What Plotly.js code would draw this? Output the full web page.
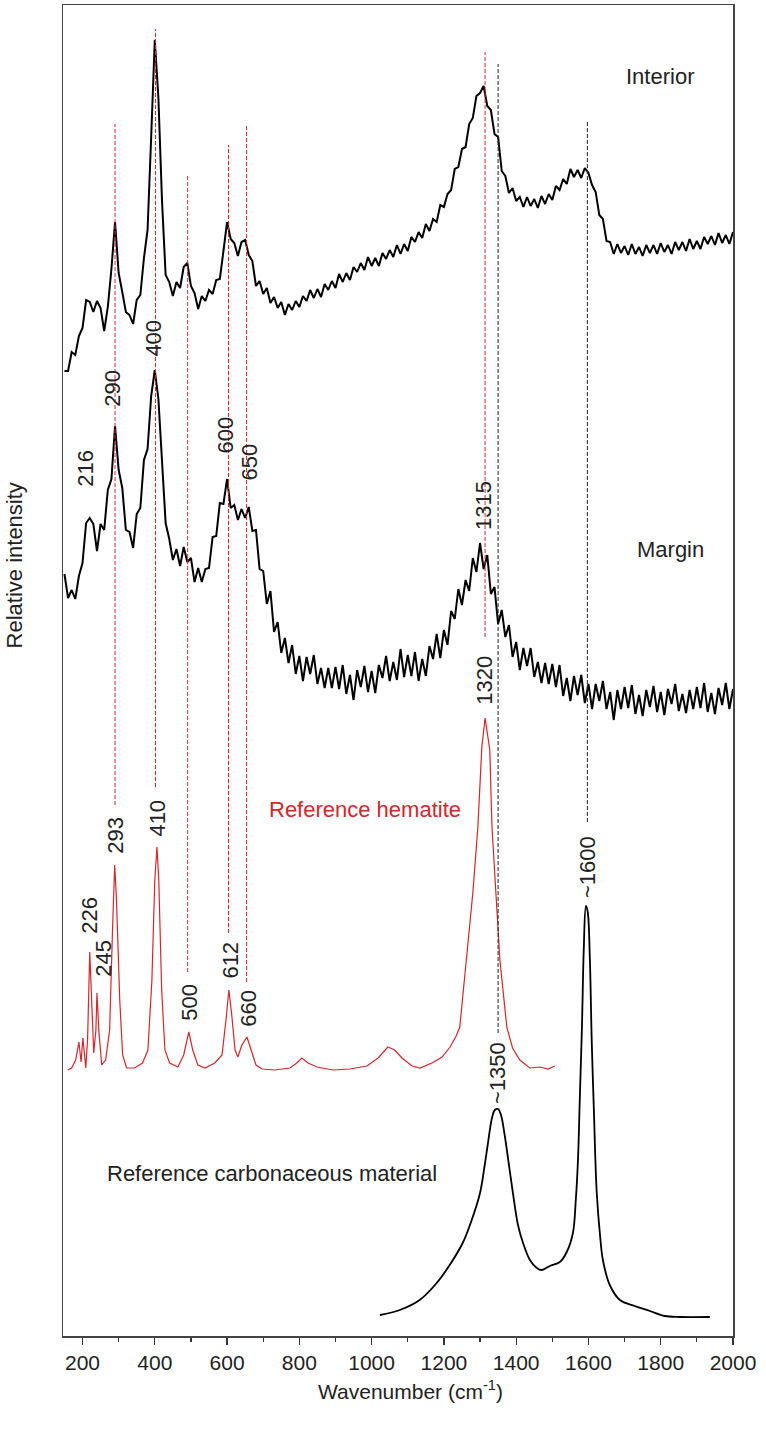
<!DOCTYPE html>
<html>
<head>
<meta charset="utf-8">
<script src="https://cdn.plot.ly/plotly-3.0.1.min.js"></script>
<style>
  body { margin: 0; background: white; }
  #chart { width: 766px; height: 1433px; }
</style>
</head>
<body>
<div id="chart"></div>
<script>
// wavenumber grid of the two measured spectra (cm-1)
var wn = [
  150,160,170,180,190,200,210,220,230,240,
  250,260,270,280,290,300,310,320,330,340,
  350,360,370,380,390,400,410,420,430,440,
  450,460,470,480,490,500,510,520,530,540,
  550,560,570,580,590,600,610,620,630,640,
  650,660,670,680,690,700,710,720,730,740,
  750,760,770,780,790,800,810,820,830,840,
  850,860,870,880,890,900,910,920,930,940,
  950,960,970,980,990,1000,1010,1020,1030,1040,
  1050,1060,1070,1080,1090,1100,1110,1120,1130,1140,
  1150,1160,1170,1180,1190,1200,1210,1220,1230,1240,
  1250,1260,1270,1280,1290,1300,1310,1320,1330,1340,
  1350,1360,1370,1380,1390,1400,1410,1420,1430,1440,
  1450,1460,1470,1480,1490,1500,1510,1520,1530,1540,
  1550,1560,1570,1580,1590,1600,1610,1620,1630,1640,
  1650,1660,1670,1680,1690,1700,1710,1720,1730,1740,
  1750,1760,1770,1780,1790,1800,1810,1820,1830,1840,
  1850,1860,1870,1880,1890,1900,1910,1920,1930,1940,
  1950,1960,1970,1980,1990,2000
];

// stacked, offset intensities (arbitrary units)
var interior = [
  965,965,984,981,1000,1008,1036,1034,1024,1035,
  1028,1005,1029,1067,1114,1063,1044,1024,1021,1012,
  1036,1041,1078,1106,1199,1296,1238,1135,1061,1054,
  1040,1054,1048,1069,1073,1050,1043,1027,1040,1035,
  1046,1042,1056,1057,1085,1114,1097,1093,1080,1094,
  1096,1081,1075,1050,1055,1042,1048,1033,1039,1028,
  1034,1021,1032,1026,1035,1029,1040,1035,1046,1038,
  1047,1039,1052,1046,1055,1048,1062,1054,1063,1056,
  1069,1064,1073,1066,1079,1070,1078,1070,1083,1077,
  1086,1079,1091,1082,1092,1085,1099,1094,1104,1098,
  1112,1105,1117,1114,1131,1129,1142,1146,1167,1169,
  1187,1189,1212,1218,1240,1243,1250,1230,1226,1202,
  1199,1165,1160,1143,1148,1135,1139,1129,1139,1130,
  1137,1128,1140,1132,1142,1136,1150,1146,1157,1152,
  1167,1159,1166,1158,1168,1163,1151,1144,1121,1117,
  1095,1094,1082,1092,1083,1090,1081,1092,1082,1089,
  1080,1091,1083,1091,1082,1093,1084,1091,1082,1094,
  1086,1094,1085,1097,1087,1095,1087,1099,1092,1100,
  1091,1103,1093,1101,1092,1104
];

var margin = [
  762,738,746,737,760,773,813,818,812,785,
  812,806,846,857,910,866,848,806,804,788,
  822,828,876,887,940,966,937,878,813,797,
  776,787,770,789,774,778,754,768,754,767,
  768,799,800,833,832,857,828,831,816,827,
  818,829,805,806,767,765,732,745,704,714,
  683,698,673,691,662,680,655,679,662,681,
  652,668,648,668,648,669,647,671,642,661,
  636,666,649,670,644,665,643,671,658,680,
  655,674,656,687,659,681,660,684,655,677,
  660,690,677,702,678,706,691,725,717,747,
  731,756,745,778,764,793,767,781,742,749,
  712,726,699,711,679,694,666,688,670,688,
  659,674,653,673,652,672,649,671,640,658,
  635,660,641,661,633,652,627,652,635,655,
  627,644,616,646,627,649,628,651,622,641,
  620,646,629,650,624,644,621,647,632,652,
  625,642,623,646,627,649,628,653,624,643,
  622,648,631,653,627,647
];

var hemWn = [
  159,170,181,190,196,201,209,214,220,226,231,237,240,245,253,264,275,283,289,294,
  303,311,322,344,366,381,392,400,406,411,419,428,441,464,480,494,505,519,539,566,
  586,597,605,613,622,630,641,655,666,680,697,732,774,793,807,824,849,893,940,987,
  1018,1045,1064,1084,1112,1134,1167,1195,1217,1234,1244,1263,1280,1294,1302,1305,1314,1327,1333,1344,
  1355,1374,1390,1410,1438,1466,1488,1507
];
var hematite = [
  266,268,276,294,274,298,268,296,384,336,283,306,343,306,271,276,306,406,471,436,
  336,281,268,268,273,286,356,456,489,456,346,286,273,269,281,304,286,271,268,273,
  281,316,346,321,286,279,291,299,286,271,267,266,268,273,278,273,269,266,267,270,
  278,289,286,278,270,268,273,279,289,300,309,376,443,509,576,589,618,586,509,443,
  376,309,288,276,268,269,267,270
];

var carbWn = [
  1023,1078,1133,1180,1216,1252,1277,1300,1313,1322,1333,1341,1350,1358,1369,1380,1391,1405,1419,1438,
  1457,1471,1493,1521,1540,1557,1565,1571,1576,1582,1587,1593,1598,1604,1609,1615,1623,1632,1640,1659,
  1687,1728,1770,1811,1853,1936
];
var carbon = [
  21,26,36,53,71,93,116,143,171,193,218,226,227,221,199,171,143,111,93,76,
  68,66,70,74,84,103,136,176,236,309,386,430,424,376,296,226,143,101,76,51,
  36,30,25,20,19,19
];

// peak guide lines: position, top, bottom
var redLineX = [290, 402, 491, 604, 654, 1314];
var redLineTop = [1212, 1307, 1161, 1191, 1212, 1284];
var redLineBot = [531, 549, 364, 403, 354, 699];
var blackLineX = [1350, 1597];
var blackLineTop = [1272, 1216];
var blackLineBot = [303, 514];

// peak labels
var peakText = ['400','290','216','600','650','1315','1320','293','410','226','245','500','612','660','~1600','~1350'];
var peakX = [394, 281, 206, 593, 662, 1308, 1310, 289, 405, 217, 256, 494, 607, 657, 1596, 1347];
var peakY = [998, 948, 868, 901, 874, 831, 656, 501, 518, 421, 378, 334, 376, 328, 469, 263];

var RED = '#d7262b';

var traces = [
  {x: wn, y: interior, mode: 'lines', line: {color: '#000', width: 2}},
  {x: wn, y: margin, mode: 'lines', line: {color: '#000', width: 2}},
  {x: hemWn, y: hematite, mode: 'lines', line: {color: RED, width: 1.2}},
  {x: carbWn, y: carbon, mode: 'lines', line: {color: '#000', width: 1.8, shape: 'spline'}}
];

var shapes = [];
for (var i = 0; i < redLineX.length; i++) {
  shapes.push({type: 'line', xref: 'x', yref: 'y', x0: redLineX[i], x1: redLineX[i],
    y0: redLineBot[i], y1: redLineTop[i], line: {color: RED, width: 1, dash: '4px,2px'}});
}
for (var j = 0; j < blackLineX.length; j++) {
  shapes.push({type: 'line', xref: 'x', yref: 'y', x0: blackLineX[j], x1: blackLineX[j],
    y0: blackLineBot[j], y1: blackLineTop[j], line: {color: '#222', width: 1, dash: '4px,2px'}});
}

var annotations = [];
for (var k = 0; k < peakText.length; k++) {
  annotations.push({x: peakX[k], y: peakY[k], xref: 'x', yref: 'y', text: peakText[k],
    textangle: -90, showarrow: false, font: {size: 22, color: '#222'}});
}
annotations.push(
  {x: 1798, y: 1260, xref: 'x', yref: 'y', text: 'Interior', showarrow: false, font: {size: 22, color: '#222'}},
  {x: 1826, y: 787, xref: 'x', yref: 'y', text: 'Margin', showarrow: false, font: {size: 22, color: '#222'}},
  {x: 981, y: 527, xref: 'x', yref: 'y', text: 'Reference hematite', showarrow: false, font: {size: 22, color: RED}},
  {x: 724, y: 163, xref: 'x', yref: 'y', text: 'Reference carbonaceous material', showarrow: false, font: {size: 22, color: '#222'}},
  {x: 0.519, y: -0.0406, xref: 'paper', yref: 'paper', xanchor: 'center', yanchor: 'middle',
    text: 'Wavenumber (cm<sup>-1</sup>)', showarrow: false, font: {size: 21, color: '#222'}},
  {x: -0.073, y: 0.579, xref: 'paper', yref: 'paper', xanchor: 'center', yanchor: 'middle',
    text: 'Relative intensity', textangle: -90, showarrow: false, font: {size: 22, color: '#222'}}
);

var layout = {
  width: 766,
  height: 1433,
  margin: {l: 63, r: 33, t: 5, b: 97},
  showlegend: false,
  paper_bgcolor: 'white',
  plot_bgcolor: 'white',
  font: {family: 'Liberation Sans, Arial, sans-serif', size: 21, color: '#222'},
  xaxis: {
    range: [146, 2000],
    tick0: 200,
    dtick: 200,
    ticks: 'outside',
    ticklen: 7,
    tickwidth: 1.2,
    tickcolor: '#333',
    tickfont: {size: 21, color: '#222'},
    showline: true,
    linecolor: '#444',
    linewidth: 1.5,
    mirror: true,
    showgrid: false,
    zeroline: false,
    minor: {tick0: 100, dtick: 100, ticks: 'outside', ticklen: 4, tickwidth: 1.2, tickcolor: '#333'}
  },
  yaxis: {
    range: [0, 1331],
    showticklabels: false,
    ticks: '',
    showline: true,
    linecolor: '#444',
    linewidth: 1.5,
    mirror: true,
    showgrid: false,
    zeroline: false
  },
  shapes: shapes,
  annotations: annotations
};

Plotly.newPlot('chart', traces, layout, {staticPlot: true});
</script>
</body>
</html>
